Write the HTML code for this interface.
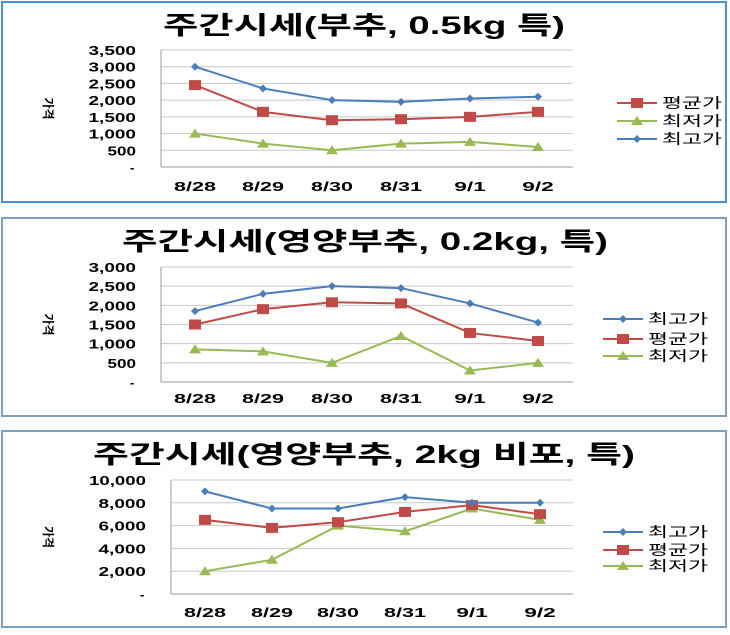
<!DOCTYPE html>
<html><head><meta charset="utf-8"><style>
body{margin:0;background:#fff;width:730px;height:630px;overflow:hidden}
text{font-family:"Liberation Sans","Noto Sans CJK KR",sans-serif}
</style></head><body>
<svg id="s" width="730" height="630" xmlns="http://www.w3.org/2000/svg"></svg>
<script>
const s=document.getElementById('s');let h='';
const C={max:'#4a7ebb',avg:'#be4b48',min:'#98b954'};
function mk(t,x,y){
 if(t=='max')return `<polygon points="${x},${y-4} ${x+4},${y} ${x},${y+4} ${x-4},${y}" fill="${C.max}"/>`;
 if(t=='avg')return `<rect x="${x-6}" y="${y-5}" width="12" height="10" fill="${C.avg}"/>`;
 return `<polygon points="${x},${y-5} ${x+6},${y+4} ${x-6},${y+4}" fill="${C.min}"/>`;
}
const names={max:'최고가',avg:'평균가',min:'최저가'};
const LA='lengthAdjust="spacingAndGlyphs"';
function panel(p){
 h+=`<rect x="${p.fx}" y="${p.fy}" width="${p.fw}" height="${p.fh}" fill="#fff" stroke="${p.bc}" stroke-width="2"/>`;
 h+=`<text x="${p.t0}" y="${p.ty}" font-size="25" font-weight="bold" textLength="${p.t1-p.t0}" ${LA}>${p.title}</text>`;
 const n=p.ymax/p.step;const dy=(p.yb-p.yt)/n;
 for(let i=0;i<=n;i++){const y=p.yb-i*dy;
  h+=`<line x1="${p.px}" x2="573" y1="${y}" y2="${y}" stroke="${i==0?'#999':'#c8c8c8'}" stroke-width="1"/>`;
  const v=i*p.step;const str=v==0?'-':v.toLocaleString('en-US');
  const w=str.length*9.5;
  h+=`<text x="${p.lx-(v?w:6)}" y="${y+5}" font-size="13" font-weight="bold" ${v?`textLength="${w}" ${LA}`:''}>${str}</text>`;}
 h+=`<line x1="${p.px}" x2="${p.px}" y1="${p.yt}" y2="${p.yb}" stroke="#999"/>`;
 h+=`<text transform="translate(44,${(p.yt+p.yb)/2}) rotate(90)" font-size="12" font-weight="bold" text-anchor="middle">가격</text>`;
 const d=['8/28','8/29','8/30','8/31','9/1','9/2'];
 d.forEach((l,i)=>{const w=l.length*10.5;h+=`<text x="${p.xs[i]-w/2}" y="${p.ly}" font-size="13" font-weight="bold" textLength="${w}" ${LA}>${l}</text>`});
 for(const k of ['min','avg','max']){const pts=p.data[k].map((v,i)=>[p.xs[i],p.yb-v/p.ymax*(p.yb-p.yt)]);
  h+=`<polyline points="${pts.map(a=>a.join(',')).join(' ')}" fill="none" stroke="${C[k]}" stroke-width="2"/>`;
  pts.forEach(a=>h+=mk(k,a[0],a[1]));}
 p.leg.forEach((k,i)=>{const y=p.legy[i];
  h+=`<line x1="${p.legx}" x2="${p.legx+40}" y1="${y}" y2="${y}" stroke="${C[k]}" stroke-width="2"/>`+mk(k,p.legx+20,y);
  h+=`<text x="${p.legx+45}" y="${y+5}" font-size="14" textLength="60" ${LA}>${names[k]}</text>`;});
}
panel({fx:2,fy:2,fw:724,fh:200,bc:'#4f90d0',t0:163,t1:565,ty:34,title:'주간시세(부추, 0.5kg  특)',px:161,yt:50,yb:167,ymax:3500,step:500,lx:136,ly:191,
 xs:[195,263,332,401,470,538],data:{max:[3000,2350,2000,1950,2050,2100],avg:[2450,1650,1400,1430,1500,1650],min:[1000,700,500,700,750,600]},
 leg:['avg','min','max'],legy:[103,121,139],legx:617});
panel({fx:2,fy:218,fw:724,fh:198,bc:'#7f9ec0',t0:122,t1:608,ty:250,title:'주간시세(영양부추, 0.2kg,  특)',px:161,yt:267,yb:382,ymax:3000,step:500,lx:136,ly:403,
 xs:[195,263,332,401,470,538],data:{max:[1850,2300,2500,2450,2050,1550],avg:[1500,1900,2080,2050,1280,1070],min:[850,800,500,1200,300,500]},
 leg:['max','avg','min'],legy:[319,339,356],legx:603});
panel({fx:2,fy:431,fw:724,fh:196,bc:'#7f9ec0',t0:93,t1:635,ty:463,title:'주간시세(영양부추, 2kg  비포,  특)',px:171,yt:480,yb:594,ymax:10000,step:2000,lx:146,ly:617,
 xs:[205,272,338,405,472,540],data:{max:[9000,7500,7500,8500,8000,8000],avg:[6500,5800,6300,7200,7800,7000],min:[2000,3000,6000,5500,7500,6500]},
 leg:['max','avg','min'],legy:[532,550,566],legx:603});
s.innerHTML=h;
</script>
</body></html>
